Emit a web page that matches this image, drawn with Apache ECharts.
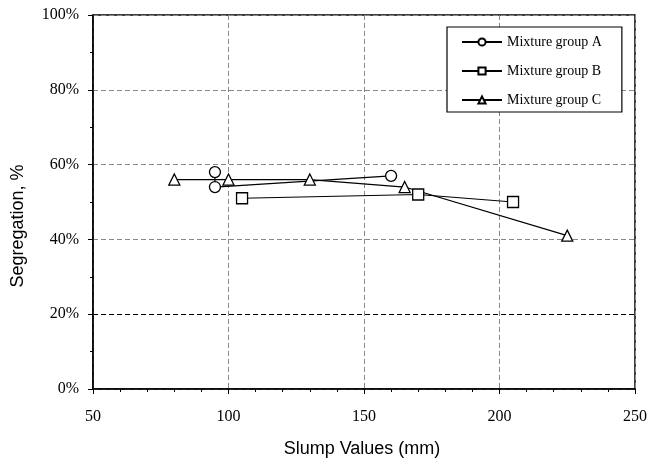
<!DOCTYPE html>
<html>
<head>
<meta charset="utf-8">
<script src="https://cdn.jsdelivr.net/npm/echarts@6/dist/echarts.min.js"></script>
<style>html,body{margin:0;padding:0;background:#fff}#c{width:650px;height:467px}</style>
</head>
<body>
<div id="c"></div>
<script>
var seriesNames = ['Mixture group A', 'Mixture group B', 'Mixture group C'];
var groupA = [[95, 58], [95, 54], [160, 57]];
var groupB = [[105, 51], [170, 52], [205, 50]];
var groupC = [[80, 56], [100, 56], [130, 56], [165, 54], [225, 41]];
var xTicks = [50, 100, 150, 200, 250];
var yTicks = [0, 20, 40, 60, 80, 100];
var xTitle = 'Slump Values (mm)';
var yTitle = 'Segregation, %';

var chart = echarts.init(document.getElementById('c'), null, {renderer: 'canvas'});
var serif = 'Liberation Serif';
function mk(name, data, symbol, size) {
  return {
    name: name, type: 'line', data: data, symbol: symbol, symbolSize: size,
    showAllSymbol: true, z: 5,
    lineStyle: {color: '#000', width: 1.2},
    itemStyle: {color: '#fff', borderColor: '#000', borderWidth: 1.3}
  };
}
chart.setOption({
  animation: false,
  backgroundColor: '#fff',
  grid: {left: 93, right: 15, top: 15, bottom: 78, show: true, borderColor: '#000', borderWidth: 1.5, backgroundColor: 'transparent'},
  legend: {
    orient: 'vertical', left: 447, top: 27, width: 175,
    backgroundColor: '#fff', borderColor: '#000', borderWidth: 1.2,
    padding: [8, 20, 5, 14], itemGap: 15, itemWidth: 40, itemHeight: 9,
    textStyle: {fontFamily: serif, fontSize: 14, color: '#000'},
    data: seriesNames
  },
  graphic: [
    {type: 'text', style: {text: xTitle, font: '18px "Liberation Sans"', fill: '#000', align: 'center', verticalAlign: 'middle'}, x: 362, y: 449, z: 10},
    {type: 'text', style: {text: yTitle, font: '18px "Liberation Sans"', fill: '#000', align: 'center', verticalAlign: 'middle'}, x: 18, y: 226, rotation: Math.PI / 2, z: 10}
  ],
  xAxis: {
    type: 'value', min: xTicks[0], max: xTicks[xTicks.length - 1], interval: 50,
    axisLine: {show: true, lineStyle: {color: '#000', width: 1.5}},
    axisTick: {show: true, length: 5, lineStyle: {color: '#000'}},
    minorTick: {show: true, splitNumber: 5, length: 3, lineStyle: {color: '#000'}},
    axisLabel: {fontFamily: serif, fontSize: 16, color: '#000', margin: 20},
    splitLine: {show: true, lineStyle: {color: '#888', type: [5, 3], width: 1}}
  },
  yAxis: {
    type: 'value', min: yTicks[0], max: yTicks[yTicks.length - 1], interval: 20,
    axisLine: {show: true, lineStyle: {color: '#000', width: 1.5}},
    axisTick: {show: true, length: 5, lineStyle: {color: '#000'}},
    minorTick: {show: true, splitNumber: 2, length: 3, lineStyle: {color: '#000'}},
    axisLabel: {fontFamily: serif, fontSize: 16, color: '#000', margin: 14, formatter: '{value}%'},
    splitLine: {show: true, lineStyle: {color: ['#888', '#000', '#888', '#888', '#888', '#888'], type: [5, 3], width: 1}}
  },
  series: [
    mk(seriesNames[0], groupA, 'circle', 11),
    mk(seriesNames[1], groupB, 'rect', 11),
    mk(seriesNames[2], groupC, 'triangle', 11)
  ]
});
</script>
</body>
</html>
